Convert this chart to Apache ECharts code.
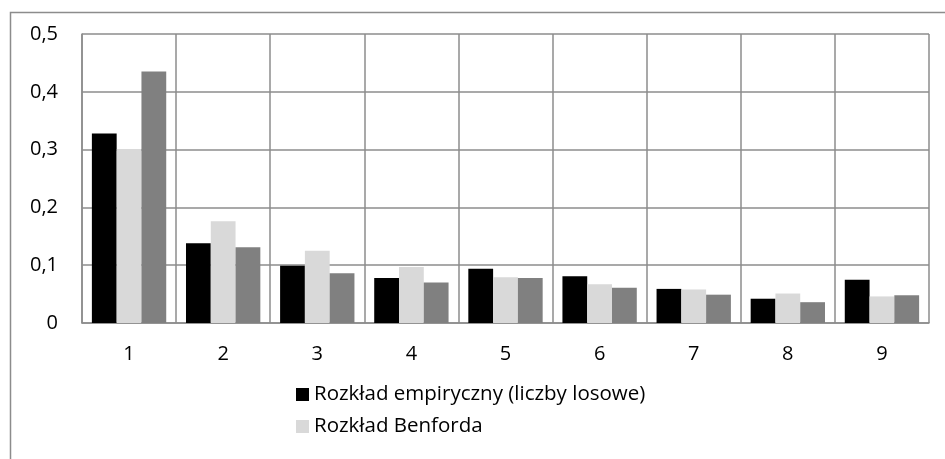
<!DOCTYPE html>
<html>
<head>
<meta charset="utf-8">
<script src="https://cdn.jsdelivr.net/npm/echarts@6/dist/echarts.min.js"></script>
<style>
  html, body { margin: 0; padding: 0; background: #fff; }
  #chart { width: 945px; height: 459px; }
</style>
</head>
<body>
<div id="chart"></div>
<script>
// Leading digits 1..9
const digits = ['1', '2', '3', '4', '5', '6', '7', '8', '9'];

// Empirical distribution of leading digits (random numbers)
const empirical = [0.328, 0.138, 0.099, 0.078, 0.094, 0.081, 0.059, 0.042, 0.075];
// Benford's law
const benford = [0.301, 0.176, 0.125, 0.097, 0.079, 0.067, 0.058, 0.051, 0.046];
// Third comparison distribution
const third = [0.435, 0.131, 0.086, 0.070, 0.078, 0.061, 0.049, 0.036, 0.048];

const seriesNames = ['Rozkład empiryczny (liczby losowe)', 'Rozkład Benforda', 'Seria 3'];

const gridColor = '#8c8c8c';
const font = 'Open Sans';
const fontSize = 20;

const chart = echarts.init(document.getElementById('chart'), null, { renderer: 'canvas' });

chart.setOption({
  backgroundColor: '#ffffff',
  animation: false,
  textStyle: { fontFamily: font },
  graphic: [{
    type: 'rect',
    left: 8, top: 10,
    shape: { width: 1000, height: 600 },
    style: { fill: 'none', stroke: gridColor, lineWidth: 1.5 },
    silent: true,
    z: -1
  }],
  grid: { left: 82, right: 16, top: 34, bottom: 136, containLabel: false },
  legend: {
    data: [seriesNames[0], seriesNames[1]],
    orient: 'vertical',
    left: 291, top: 379,
    itemWidth: 13, itemHeight: 13, itemGap: 11,
    icon: 'rect',
    textStyle: { fontFamily: font, fontSize: 20.5, color: '#000' }
  },
  xAxis: {
    type: 'category',
    data: digits,
    axisTick: { show: false },
    axisLine: { lineStyle: { color: gridColor, width: 1.5 } },
    axisLabel: { color: '#000', fontSize: fontSize, margin: 21, fontFamily: font },
    splitLine: { show: true, lineStyle: { color: gridColor, width: 1.5 } }
  },
  yAxis: {
    type: 'value',
    min: 0, max: 0.5, interval: 0.1,
    axisLine: { show: true, lineStyle: { color: gridColor, width: 1.5 } },
    axisTick: { show: false },
    axisLabel: {
      color: '#000', fontSize: fontSize, margin: 24, fontFamily: font,
      formatter: v => (Math.round(v * 10) / 10).toString().replace('.', ',')
    },
    splitLine: { lineStyle: { color: gridColor, width: 1.5 } }
  },
  series: [
    { name: seriesNames[0], type: 'bar', data: empirical, itemStyle: { color: '#000000' }, barGap: '0%', barCategoryGap: '21%' },
    { name: seriesNames[1], type: 'bar', data: benford, itemStyle: { color: '#d9d9d9' } },
    { name: seriesNames[2], type: 'bar', data: third, itemStyle: { color: '#808080' } }
  ]
});
</script>
</body>
</html>
